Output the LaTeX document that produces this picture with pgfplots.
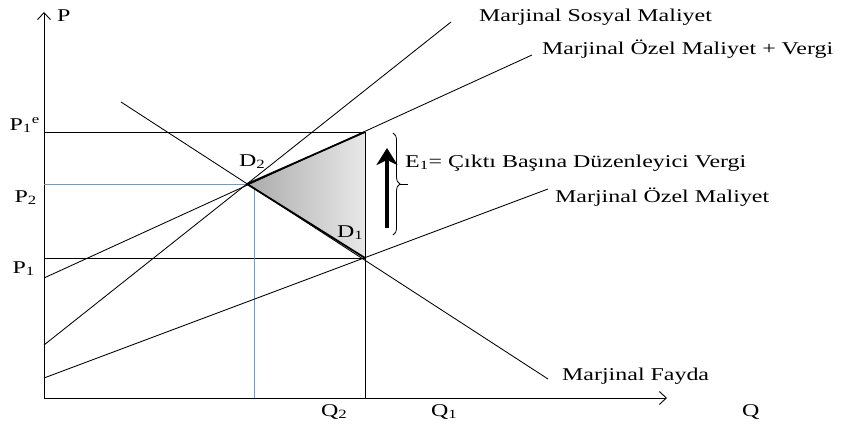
\documentclass[border=0pt]{standalone}
\usepackage{fontspec}
\setmainfont{Liberation Serif}[FakeStretch=1.33]
\usepackage{pgfplots}
\pgfplotsset{compat=1.18}
\usetikzlibrary{arrows.meta,decorations.pathreplacing}

\definecolor{steel}{RGB}{125,150,178}

\begin{document}
\begin{tikzpicture}[every node/.style={inner sep=0pt, font=\fontsize{18}{21}\selectfont}]
\useasboundingbox (-44pt,-26pt) rectangle (797pt,398pt);
\begin{axis}[
    scale only axis,
    width=623pt, height=386pt,
    xmin=0, xmax=623, ymin=0, ymax=386,
    axis lines=left,
    axis line style={line width=0.9pt, -{Straight Barb[length=7pt,width=13pt,line width=0.9pt]}},
    xtick=\empty, ytick=\empty,
    clip=false,
]
% shaded triangle D2 - top - D1
\addplot[draw=none, left color=black!33, right color=black!9]
    coordinates {(203,214) (321,266) (321,140)} -- cycle;

% guide lines
\addplot[black, line width=0.9pt] coordinates {(0,266) (321,266)};
\addplot[black, line width=0.9pt] coordinates {(0,140) (321,140)};
\addplot[black, line width=0.9pt] coordinates {(321,266) (321,0)};
\addplot[steel, line width=0.9pt] coordinates {(0,214) (206,214)};
\addplot[steel, line width=0.9pt] coordinates {(210,211) (210,0)};

% curves
\addplot[black, line width=0.85pt] coordinates {(0,53) (407,376)};   % sosyal maliyet
\addplot[black, line width=0.85pt] coordinates {(0,120) (488,343)};  % ozel maliyet + vergi
\addplot[black, line width=0.85pt] coordinates {(0,20) (504,209)};   % ozel maliyet
\addplot[black, line width=0.85pt] coordinates {(77,296) (504,19)};  % fayda

% triangle edges
\addplot[black, line width=1.8pt] coordinates {(203,214) (321,266)};
\addplot[black, line width=1.8pt] coordinates {(203,214) (321,140)};

% tax arrow
\addplot[black, line width=4.5pt, -{Stealth[length=17pt,width=21pt,inset=5pt]}]
    coordinates {(343,170) (343,250)};
\draw[line width=0.8pt, decorate, decoration={brace, amplitude=7pt}]
    (axis cs:349,265) -- (axis cs:349,163);
\draw[line width=0.8pt] (axis cs:356,214) -- (axis cs:364,214);

% labels
\node[anchor=base west] at (axis cs:13,376) {P};
\node[anchor=base west] at (axis cs:698,-18) {Q};
\node[anchor=base west] at (axis cs:277,-18) {Q\textsubscript{2}};
\node[anchor=base west] at (axis cs:387,-18) {Q\textsubscript{1}};
\node[anchor=base east] at (axis cs:-4,268) {P\textsubscript{1}\textsuperscript{e}};
\node[anchor=base east] at (axis cs:-7,196) {P\textsubscript{2}};
\node[anchor=base east] at (axis cs:-9,125) {P\textsubscript{1}};
\node[anchor=base west] at (axis cs:195,232) {D\textsubscript{2}};
\node[anchor=base west] at (axis cs:293,161) {D\textsubscript{1}};
\node[anchor=base west] at (axis cs:435,376) {Marjinal Sosyal Maliyet};
\node[anchor=base west] at (axis cs:498,343) {Marjinal Özel Maliyet + Vergi};
\node[anchor=base west] at (axis cs:361,231) {E\textsubscript{1}= Çıktı Başına Düzenleyici Vergi};
\node[anchor=base west] at (axis cs:511,196) {Marjinal Özel Maliyet};
\node[anchor=base west] at (axis cs:518,18) {Marjinal Fayda};
\end{axis}
\end{tikzpicture}
\end{document}
